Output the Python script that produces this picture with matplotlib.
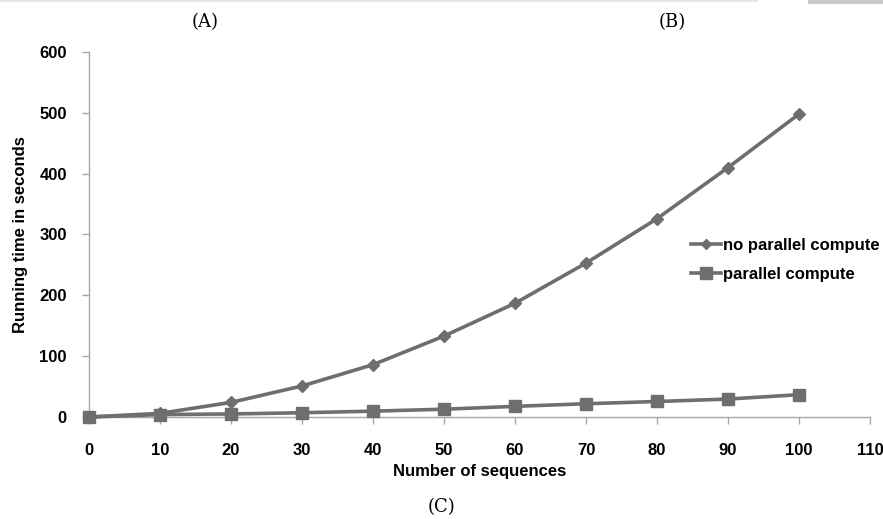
import matplotlib
matplotlib.use("Agg")
import matplotlib.pyplot as plt
from matplotlib.lines import Line2D

x_values = [0, 10, 20, 30, 40, 50, 60, 70, 80, 90, 100]
no_parallel = [0, 6, 24, 51, 86, 133, 187, 253, 326, 410, 498]
parallel = [0, 4, 5, 7, 9.6, 12.8, 17.5, 21.8, 25.5, 29.5, 36.7]
x_ticks = [0, 10, 20, 30, 40, 50, 60, 70, 80, 90, 100, 110]
y_ticks = [0, 100, 200, 300, 400, 500, 600]
series_names = ["no parallel compute", "parallel compute"]

plt.rcParams["font.family"] = ["Liberation Sans", "DejaVu Sans"]

W, H = 883, 519
fig = plt.figure(figsize=(W / 100, H / 100), dpi=100)
ax = fig.add_axes([89 / W, 1 - 417 / H, (870 - 89) / W, (417 - 52) / H])

gray = "#6e6e6e"
axis_gray = "#a6a6a6"

ax.plot(x_values, no_parallel, color=gray, lw=2.6, marker="D", ms=6,
        mfc=gray, mec=gray, label=series_names[0], zorder=3, clip_on=False)
ax.plot(x_values, parallel, color=gray, lw=2.6, marker="s", ms=9,
        mfc=gray, mec=gray, label=series_names[1], zorder=3, clip_on=False)

ax.set_xlim(0, 110)
ax.set_ylim(0, 600)
ax.set_xticks(x_ticks)
ax.set_yticks(y_ticks)
for s in ["top", "right"]:
    ax.spines[s].set_visible(False)
for s in ["left", "bottom"]:
    ax.spines[s].set_color(axis_gray)
    ax.spines[s].set_linewidth(1.0)
ax.tick_params(axis="both", colors=axis_gray, length=5, width=1.0,
               labelcolor="black", labelsize=12)
ax.tick_params(axis="x", pad=14)
ax.tick_params(axis="y", pad=11)
for lbl in ax.get_xticklabels() + ax.get_yticklabels():
    lbl.set_fontweight("bold")

ax.set_xlabel("Number of sequences", fontsize=12, fontweight="bold", labelpad=4)
ax.set_ylabel("Running time in seconds", fontsize=12, fontweight="bold", labelpad=8)

handles = [
    Line2D([], [], color=gray, lw=2.6, marker="D", ms=5, mfc=gray, mec=gray),
    Line2D([], [], color=gray, lw=2.6, marker="s", ms=8, mfc=gray, mec=gray),
]
leg = fig.legend(handles, series_names, loc="upper left",
                 bbox_to_anchor=(676 / W, 1 - 223 / H), frameon=False,
                 handlelength=1.8, handletextpad=0.12, labelspacing=0.85,
                 prop={"size": 12, "weight": "bold"})

# panel labels
fig.text(205 / W, 1 - 22 / H, "(A)", ha="center", va="center",
         fontsize=13, family="DejaVu Serif")
fig.text(672 / W, 1 - 22 / H, "(B)", ha="center", va="center",
         fontsize=13, family="DejaVu Serif")
fig.text(442 / W, 1 - 507 / H, "(C)", ha="center", va="center",
         fontsize=13, family="DejaVu Serif")

# top border remnants of the neighbouring panels
fig.add_artist(Line2D([0, 757 / W], [1 - 1 / H, 1 - 1 / H], color="#e6e6e6", lw=1.5))
fig.add_artist(Line2D([810 / W, 1], [1 - 1.5 / H, 1 - 1.5 / H], color="#c8c8c8", lw=3))

fig.savefig("out.png", dpi=100)
